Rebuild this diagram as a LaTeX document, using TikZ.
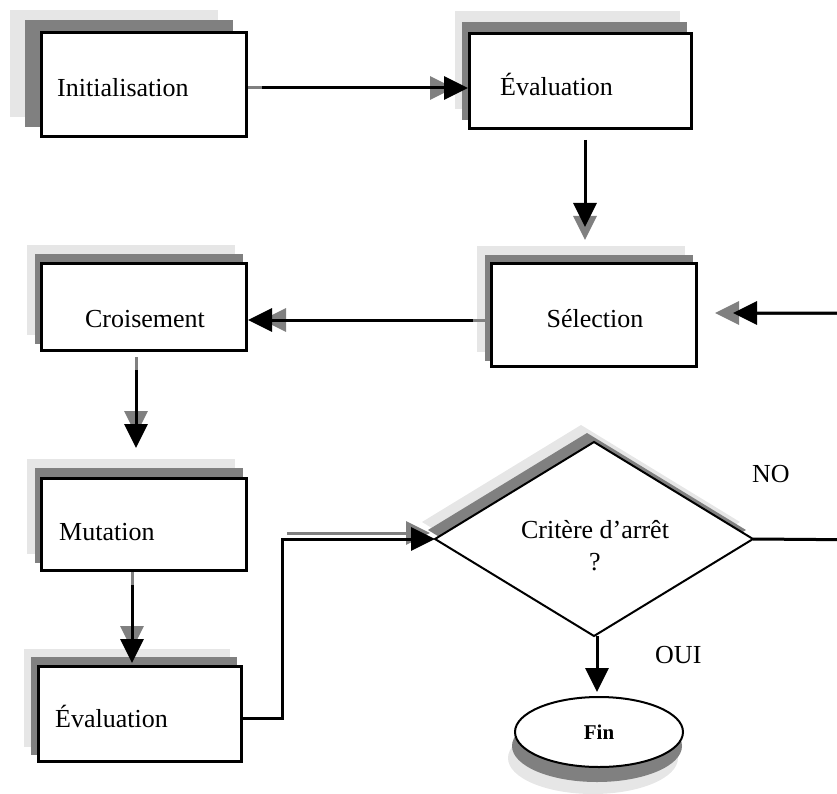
\documentclass[tikz,border=0pt]{standalone}
\usepackage{fontspec}
\setmainfont{Liberation Serif}
\usetikzlibrary{arrows.meta,shapes.geometric,backgrounds}
\definecolor{shadedark}{RGB}{128,128,128}
\definecolor{shadelight}{RGB}{230,230,230}
\begin{document}
\begin{tikzpicture}[x=1pt,y=-1pt,
  box/.style={draw=black, line width=3pt, fill=white, inner sep=0pt},
  lbl/.style={inner sep=0pt, font=\fontsize{26}{30}\selectfont},
  flow/.style={line width=3pt, -{Triangle[length=24pt,width=23pt]}},
  flowshade/.style={flow, draw=shadedark, fill=shadedark},
  ]
\useasboundingbox (0,0) rectangle (837,794);

% process boxes
\node[box, minimum width=205, minimum height=104] (init)  at (144,84.5) {};
\node[box, minimum width=222, minimum height=95]  (eval1) at (580.5,81) {};
\node[box, minimum width=205, minimum height=103] (sel)   at (594,315) {};
\node[box, minimum width=205, minimum height=87]  (cro)   at (144,307) {};
\node[box, minimum width=205, minimum height=92]  (mut)   at (144,524.5) {};
\node[box, minimum width=203, minimum height=95]  (eval2) at (140,714) {};

% decision and terminal
\node[diamond, draw, line width=2pt, fill=white, inner sep=0pt, outer sep=0pt,
      minimum width=318, minimum height=194] (crit) at (594,539) {};
\node[ellipse, draw, line width=2pt, fill=white, inner sep=0pt,
      minimum width=168, minimum height=70,
      font=\fontsize{21}{24}\selectfont\bfseries] (fin) at (599,732) {Fin};

% labels
\node[lbl, anchor=base west] (initT)  at (57,97)   {Initialisation};
\node[lbl, anchor=base west] (eval1T) at (500,96)  {Évaluation};
\node[lbl, anchor=base]      (selT)   at (595,327) {Sélection};
\node[lbl, anchor=base]      (croT)   at (145,327) {Croisement};
\node[lbl, anchor=base west] (mutT)   at (59,540)  {Mutation};
\node[lbl, anchor=base west] (eval2T) at (55,727)  {Évaluation};
\node[lbl, anchor=base]      (critT)  at (595,538) {Critère d’arrêt};
\node[lbl, anchor=base]      (critQ)  at (595,570) {?};
\node[lbl, anchor=base west] (noT)    at (752,482) {NO};
\node[lbl, anchor=base west] (ouiT)   at (655,663) {OUI};

% stacked shadows behind the shapes
\begin{scope}[on background layer]
  \foreach \n/\dx/\dy/\lx/\ly in {init/-15/-11/-30/-21, eval1/-6/-10/-13/-21,
      sel/-5/-7/-13/-16, cro/-5/-8/-13/-17, mut/-5/-9/-13/-18, eval2/-6/-8/-13/-16} {
    \fill[shadelight] ([shift={(\lx,\ly)}]\n.north west) rectangle ([shift={(\lx,\ly)}]\n.south east);
    \fill[shadedark]  ([shift={(\dx,\dy)}]\n.north west) rectangle ([shift={(\dx,\dy)}]\n.south east);
  }
  \fill[shadelight] ([shift={(-13,-17)}]crit.west) -- ([shift={(-13,-17)}]crit.north)
    -- ([shift={(-13,-17)}]crit.east) -- ([shift={(-13,-17)}]crit.south) -- cycle;
  \fill[shadedark] ([shift={(-7,-9)}]crit.west) -- ([shift={(-7,-9)}]crit.north)
    -- ([shift={(-7,-9)}]crit.east) -- ([shift={(-7,-9)}]crit.south) -- cycle;
  \fill[shadelight] ([shift={(-6,26)}]fin.center) ellipse [x radius=85, y radius=36];
  \fill[shadedark]  ([shift={(-2,14)}]fin.center) ellipse [x radius=85, y radius=36];
\end{scope}

% loop-back turning points
\coordinate (loopA) at (880,540);
\coordinate (loopB) at (880,313);

% grey offset copies of the connectors
\draw[flowshade] ([shift={(0,3.5)}]init.east) -- ([shift={(-14,7)}]eval1.west);
\draw[flowshade] ([shift={(4.5,23)}]eval1.south) -- ([shift={(-9,-22)}]sel.north);
\draw[flowshade] ([shift={(-3,5)}]sel.west) -- ([shift={(14,13)}]cro.east);
\draw[flowshade] ([shift={(-8,5)}]cro.south) -- ([shift={(-8,-42)}]mut.north);
\draw[flowshade] ([shift={(-12,0)}]mut.south) -- ([shift={(-8,-15)}]eval2.north);
\draw[flowshade] ([shift={(-148,-6)}]crit.west) -- ([shift={(-5,-6)}]crit.west);
\draw[flowshade] (loopB) -- ([shift={(17,-2)}]sel.east);

% connectors
\draw[flow] ([shift={(14,3.5)}]init.east) -- ([shift={(0,7)}]eval1.west);
\draw[flow] ([shift={(4.5,10)}]eval1.south) -- ([shift={(-9,-35)}]sel.north);
\draw[flow] ([shift={(-17,5)}]sel.west) -- ([shift={(0,13)}]cro.east);
\draw[flow] ([shift={(-8,18)}]cro.south) -- ([shift={(-8,-29)}]mut.north);
\draw[flow] ([shift={(-12,13)}]mut.south) -- ([shift={(-8,-2)}]eval2.north);
\draw[flow] ([shift={(0,4)}]eval2.east) -- ++(39,0) |- (crit.west);
\draw[flow] (crit.east) -- (loopA) -- (loopB) -- ([shift={(35,-2)}]sel.east);
\draw[flow] ([xshift=3pt]crit.south) -- ([shift={(-2,-4)}]fin.north);
\end{tikzpicture}
\end{document}
